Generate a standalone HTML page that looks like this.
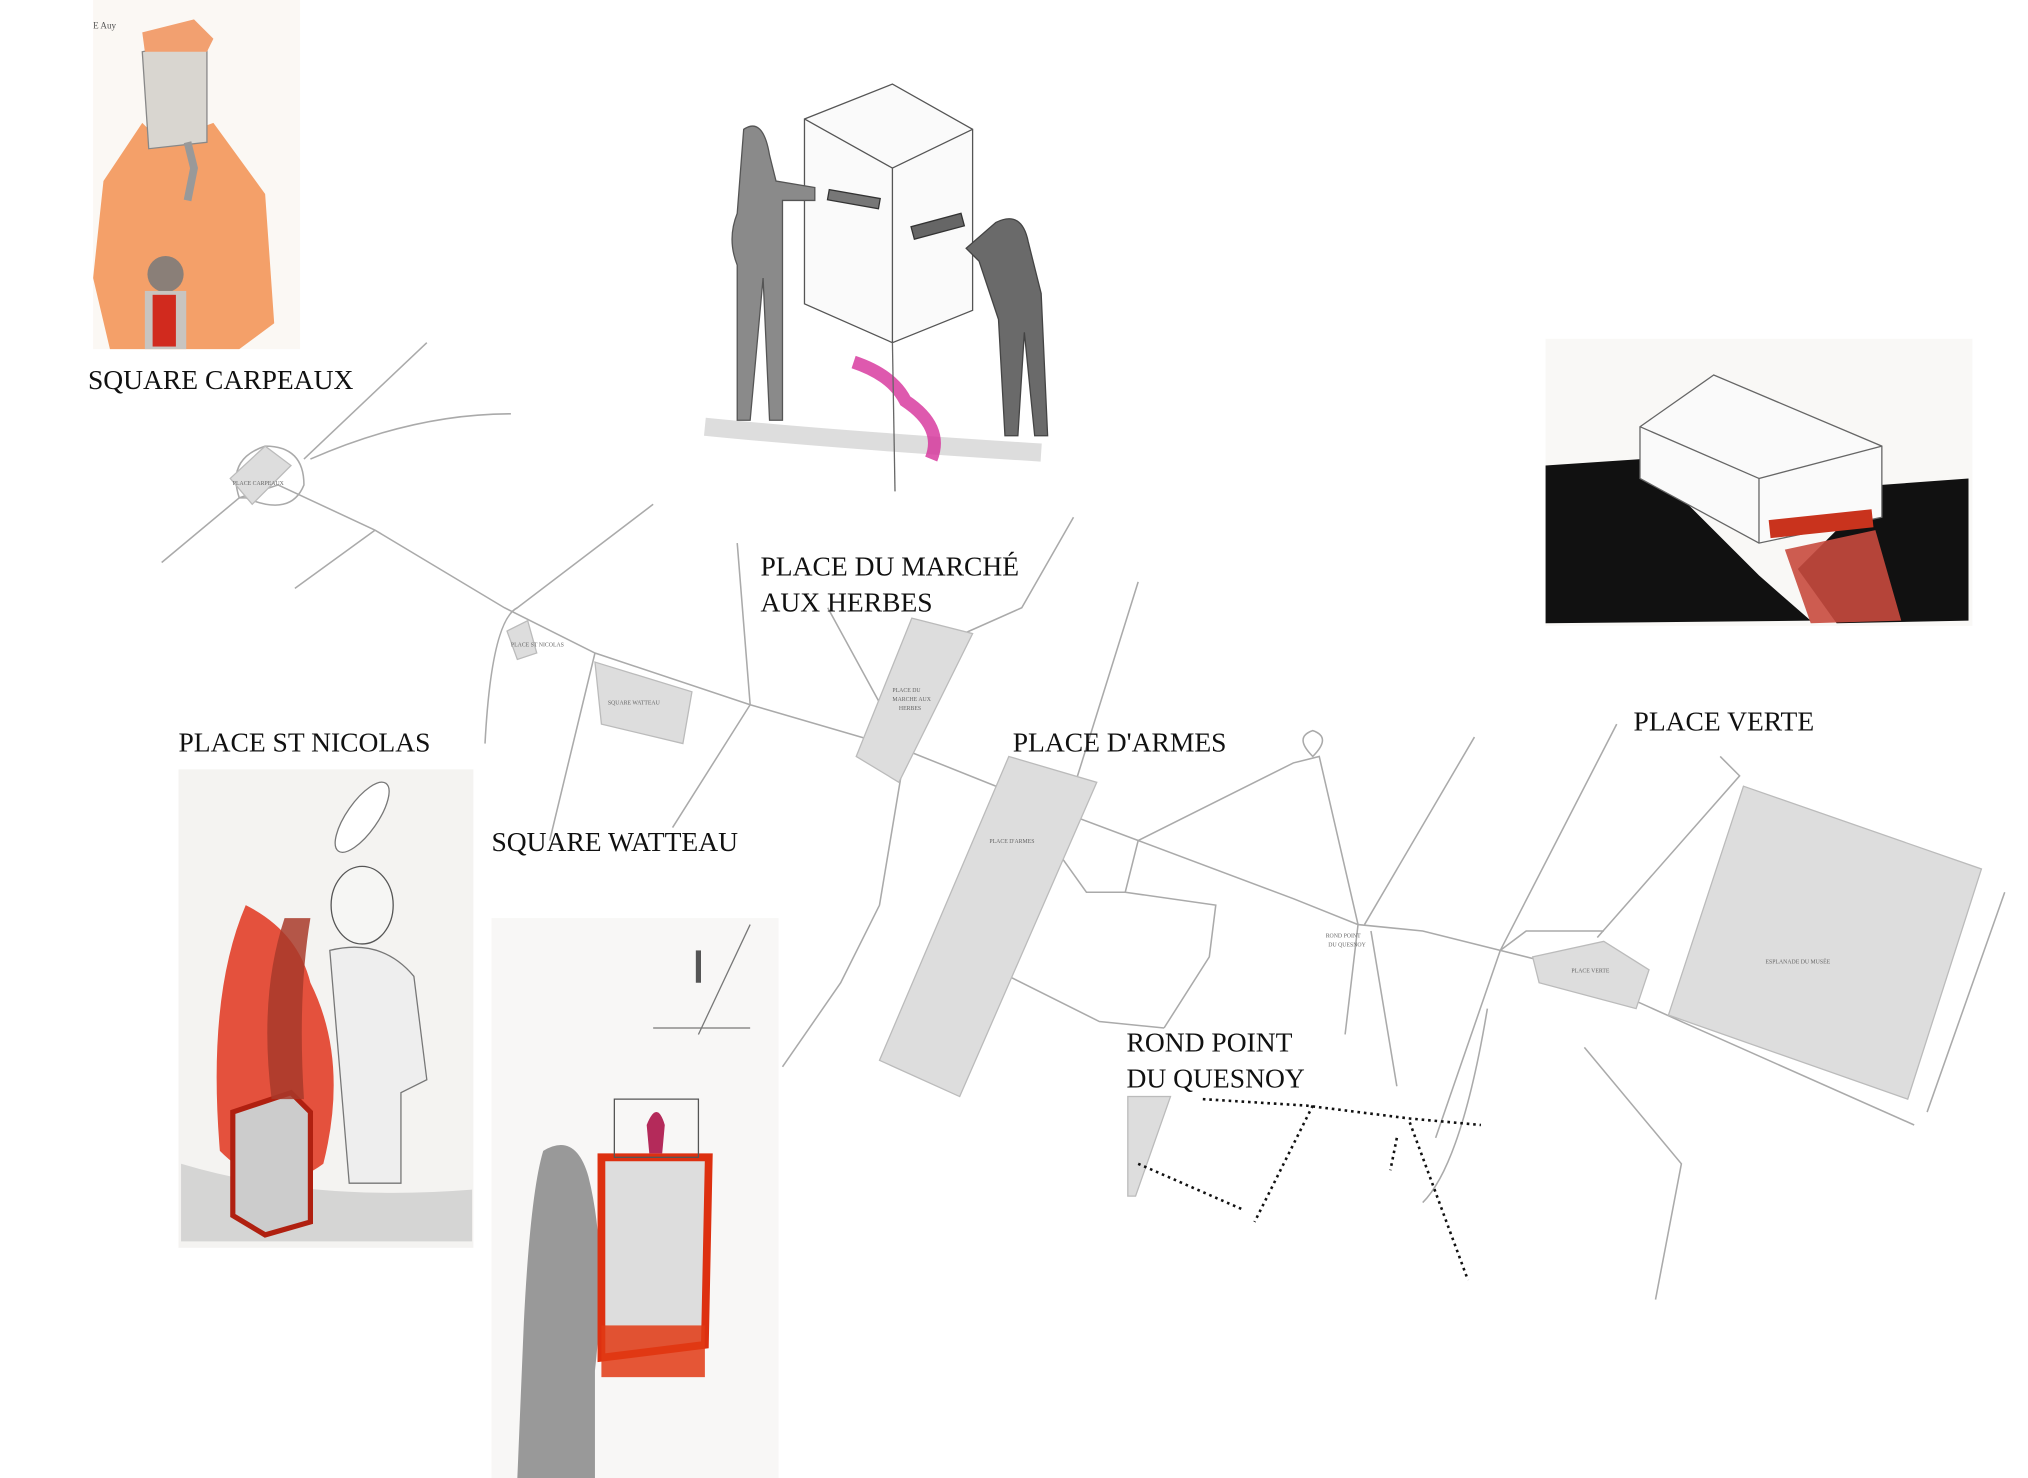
<!DOCTYPE html>
<html><head><meta charset="utf-8"><style>
html,body{margin:0;padding:0;background:#fff}
svg{display:block}
text{font-family:"Liberation Serif",serif}
</style></head><body>
<svg width="2028" height="1478" viewBox="0 0 1568 1143" preserveAspectRatio="none" xmlns="http://www.w3.org/2000/svg">
<rect width="1568" height="1143" fill="#fff"/>
<!-- Square Carpeaux sketch -->
<g>
<rect x="72" y="0" width="160" height="270" fill="#fbf8f4"/>
<polygon points="80,140 110,95 125,110 165,95 205,150 212,250 185,270 85,270 72,215" fill="#f29050" opacity="0.85"/>
<polygon points="110,40 160,30 160,110 115,115" fill="#d9d6d0" stroke="#888"/>
<polygon points="110,25 150,15 165,30 160,40 112,40" fill="#f2a070"/>
<path d="M145,110 l5,20 l-5,25" stroke="#999" stroke-width="6" fill="none"/>
<circle cx="128" cy="212" r="14" fill="#8a7f78"/>
<rect x="112" y="225" width="32" height="45" fill="#c8c4c0"/>
<rect x="118" y="228" width="18" height="40" fill="#d12a1e"/>
<text x="72" y="22" font-size="7" fill="#555">E Auy</text>
</g>
<!-- Marché aux herbes sketch -->
<g stroke="#333" fill="none">
<path d="M545,330 q100,10 260,20" stroke="#bbb" stroke-width="14" opacity="0.5"/>
<polygon points="622,92 690,65 752,100 752,240 690,265 622,235" fill="#fafafa" stroke="#555"/>
<line x1="690" y1="130" x2="690" y2="265" stroke="#555"/>
<line x1="622" y1="92" x2="690" y2="130" stroke="#555"/>
<line x1="690" y1="130" x2="752" y2="100" stroke="#555"/>
<path d="M575,100 q15,-10 20,20 l5,20 l30,5 l0,10 l-25,0 l0,170 l-10,0 l-5,-110 l-10,110 l-10,0 l0,-120 q-8,-20 0,-40 z" fill="#8a8a8a" stroke="#555"/>
<path d="M770,172 q20,-10 25,15 l10,40 l5,110 l-10,0 l-8,-80 l-5,80 l-10,0 l-5,-90 l-15,-45 l-10,-10 z" fill="#6a6a6a" stroke="#444"/>
<rect x="705" y="170" width="40" height="10" fill="#666" transform="rotate(-15 725 175)"/>
<rect x="640" y="150" width="40" height="8" fill="#777" transform="rotate(10 660 155)"/>
<path d="M660,280 q30,10 40,30 q30,20 20,45" stroke="#d6309a" stroke-width="10" opacity="0.8"/>
<line x1="690" y1="265" x2="692" y2="380" stroke="#666"/>
</g>
<!-- Place verte sketch -->
<g>
<rect x="1195" y="262" width="330" height="222" fill="#f9f8f6"/>
<polygon points="1195,360 1270,355 1360,445 1400,480 1195,482" fill="#111"/>
<polygon points="1455,375 1522,370 1522,480 1420,482 1390,440" fill="#111"/>
<polygon points="1380,425 1450,410 1470,480 1400,482" fill="#c84a3e" opacity="0.9"/>
<polygon points="1268,330 1325,290 1455,345 1455,400 1360,420 1268,370" fill="#fafafa" stroke="#666"/>
<line x1="1360" y1="420" x2="1360" y2="370" stroke="#666"/>
<line x1="1268" y1="330" x2="1360" y2="370" stroke="#666"/>
<line x1="1360" y1="370" x2="1455" y2="345" stroke="#666"/>
<rect x="1368" y="398" width="80" height="14" fill="#c9331d" transform="rotate(-6 1408 405)"/>
</g>
<!-- St Nicolas sketch -->
<g>
<rect x="138" y="595" width="228" height="370" fill="#f4f3f1"/>
<path d="M140,900 q100,30 225,20 l0,40 l-225,0z" fill="#c8c8c8" opacity="0.7"/>
<path d="M190,700 q40,20 50,60 q30,60 10,140 q-40,30 -80,-10 q-10,-120 20,-190z" fill="#e02810" opacity="0.8"/>
<ellipse cx="280" cy="700" rx="24" ry="30" fill="#f6f6f4" stroke="#555"/>
<path d="M255,735 q40,-10 65,20 l10,80 l-20,10 l0,70 l-40,0 z" fill="#eee" stroke="#777"/>
<polygon points="180,860 225,845 240,860 240,945 205,955 180,940" fill="#ccc" stroke="#b02010" stroke-width="4"/>
<path d="M210,850 q-10,-80 10,-140 l20,0 q-10,60 -5,140z" fill="#a83a2a" opacity="0.85"/>
<ellipse cx="280" cy="632" rx="12" ry="32" fill="#fff" stroke="#777" transform="rotate(35 280 632)"/>
</g>
<!-- Watteau sketch -->
<g>
<rect x="380" y="710" width="222" height="433" fill="#f8f7f6"/>
<path d="M420,890 q25,-15 35,20 q15,60 5,150 l0,83 l-60,0 l5,-120 q5,-100 15,-133z" fill="#888" opacity="0.85"/>
<polygon points="465,895 548,895 545,1040 465,1050" fill="#ddd" stroke="#dd3010" stroke-width="6"/>
<rect x="465" y="1025" width="80" height="40" fill="#e23a14" opacity="0.85"/>
<polygon points="475,850 540,850 540,895 475,895" fill="none" stroke="#555"/>
<path d="M500,870 q8,-20 14,0 l-2,22 l-10,0z" fill="#b42a5a"/>
<line x1="540" y1="735" x2="540" y2="760" stroke="#555" stroke-width="4"/>
<line x1="505" y1="795" x2="580" y2="795" stroke="#777"/>
<line x1="580" y1="715" x2="540" y2="800" stroke="#777"/>
</g>
<!-- Map roads -->
<g stroke="#aaa" stroke-width="1.2" fill="none">
<path d="M125,435 L185,385 L215,375 L290,410 L390,470 L460,505 L580,545 L700,580 L800,620 L880,650 L1000,695 L1050,715 L1100,720 L1200,745 L1300,790 L1480,870"/>
<path d="M185,385 q-10,-30 20,-40 q30,0 30,30 q-10,25 -45,10z"/>
<path d="M235,355 L330,265"/><path d="M240,355 Q320,320 395,320"/>
<path d="M228,455 L290,410"/>
<path d="M375,575 Q380,480 400,470 L505,390"/>
<path d="M425,650 L460,505"/><path d="M520,640 L580,545 L570,420"/>
<path d="M640,470 L700,580 L680,700 L650,760 L605,825"/>
<path d="M745,490 L790,470 L830,400"/><path d="M830,610 L880,450"/>
<path d="M800,620 q-10,-20 5,-25 q15,5 0,25z"/>
<path d="M800,620 L790,680 L760,745 L730,810"/>
<path d="M880,650 L1000,590 L1020,585 L1050,715 L1040,800"/>
<path d="M1015,585 q-15,-15 0,-20 q15,5 0,20z"/>
<path d="M880,650 L870,690 L940,700 L935,740 L900,795"/>
<path d="M815,655 L840,690 L870,690"/>
<path d="M760,745 L850,790 L900,795"/>
<path d="M1055,715 L1140,570"/><path d="M1060,720 L1080,840"/>
<path d="M1160,735 L1180,720 L1240,720"/><path d="M1160,735 L1110,880"/>
<path d="M1160,735 L1250,560"/><path d="M1235,725 L1345,600 L1330,585"/>
<path d="M1225,810 L1300,900 L1280,1005"/><path d="M1490,860 L1550,690"/>
<path d="M1150,780 Q1130,900 1100,930"/>
</g>
<!-- gray blocks -->
<g fill="#ddd" stroke="#bbb">
<polygon points="178,370 205,345 225,360 195,390"/>
<polygon points="392,488 408,480 415,505 400,510"/>
<polygon points="460,512 535,535 528,575 465,560"/>
<polygon points="705,478 752,490 695,605 662,585"/>
<polygon points="780,585 848,605 742,848 680,820"/>
<polygon points="1185,740 1240,728 1275,750 1265,780 1190,760"/>
<polygon points="1348,608 1532,672 1475,850 1290,785"/>
<polygon points="872,848 905,848 878,925 872,925"/>
</g>
<g fill="#666" font-size="4.5">
<text x="180" y="375">PLACE CARPEAUX</text>
<text x="395" y="500">PLACE ST NICOLAS</text>
<text x="470" y="545">SQUARE WATTEAU</text>
<text x="690" y="535">PLACE DU</text><text x="690" y="542">MARCHE AUX</text><text x="695" y="549">HERBES</text>
<text x="765" y="652">PLACE D'ARMES</text>
<text x="1025" y="725">ROND POINT</text><text x="1027" y="732">DU QUESNOY</text>
<text x="1215" y="752">PLACE VERTE</text>
<text x="1365" y="745">ESPLANADE DU MUSÉE</text>
</g>
<!-- dotted map -->
<g stroke="#111" stroke-width="2" stroke-dasharray="2,3" fill="none">
<path d="M930,850 L1010,855 L1090,865 L1145,870"/>
<path d="M1015,855 L970,945"/><path d="M1090,868 L1135,990"/>
<path d="M880,900 L960,935"/><path d="M1080,880 L1075,905"/>
</g>
<!-- labels -->
<g font-size="21.3" fill="#111">
<text x="68" y="301">SQUARE CARPEAUX</text>
<text x="588" y="445">PLACE DU MARCHÉ</text>
<text x="588" y="473">AUX HERBES</text>
<text x="138" y="581">PLACE ST NICOLAS</text>
<text x="783" y="581">PLACE D'ARMES</text>
<text x="1263" y="565">PLACE VERTE</text>
<text x="380" y="658">SQUARE WATTEAU</text>
<text x="871" y="813">ROND POINT</text>
<text x="871" y="841">DU QUESNOY</text>
</g>
</svg>
</body></html>
